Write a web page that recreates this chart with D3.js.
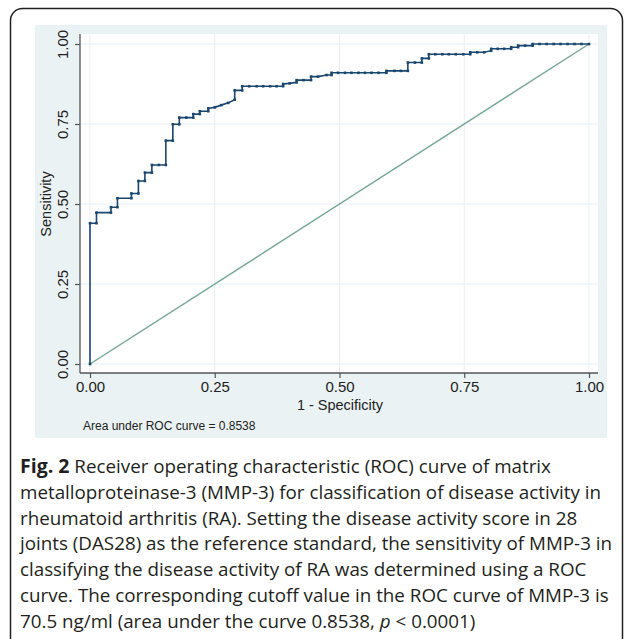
<!DOCTYPE html>
<html>
<head>
<meta charset="utf-8">
<script src="https://cdn.jsdelivr.net/npm/d3@7"></script>
<style>
  body { margin: 0; background: #fff; }
  svg { display: block; }
</style>
</head>
<body>
<div id="root"></div>
<script>
// ROC points (1 - specificity, sensitivity)
const fpr = [0, 0, .013, .013, .042, .042, .055, .055, .083, .083,
  .097, .097, .110, .110, .124, .124, .138, .152, .152, .166,
  .166, .179, .179, .193, .207, .207, .220, .220, .237, .237,
  .250, .263, .277, .290, .290, .305, .305, .319, .334, .347,
  .361, .374, .387, .387, .400, .414, .414, .428, .443, .443,
  .457, .474, .484, .484, .497, .511, .524, .538, .551, .564,
  .578, .594, .594, .610, .623, .637, .637, .651, .665, .665,
  .679, .679, .692, .706, .719, .733, .748, .762, .762, .776,
  .790, .804, .804, .817, .830, .844, .844, .858, .858, .872,
  .887, .887, .901, .915, .929, .943, .957, .971, .985, 1];
const sens = [0, .440, .440, .473, .473, .490, .490, .518, .518, .533,
  .533, .572, .572, .598, .598, .622, .622, .622, .698, .698,
  .749, .749, .770, .770, .770, .781, .781, .790, .790, .799,
  .802, .809, .816, .826, .855, .855, .868, .868, .868, .868,
  .868, .868, .868, .875, .877, .880, .887, .887, .887, .898,
  .898, .903, .903, .910, .910, .910, .910, .910, .910, .910,
  .910, .910, .916, .916, .916, .916, .942, .942, .942, .955,
  .955, .968, .968, .968, .968, .968, .968, .968, .974, .974,
  .974, .979, .985, .985, .985, .985, .990, .990, .995, .995,
  .995, 1, 1, 1, 1, 1, 1, 1, 1, 1];
const refLine = [0, 1];
const tickValues = [0, 0.25, 0.5, 0.75, 1];
const tickLabels = ["0.00", "0.25", "0.50", "0.75", "1.00"];
const noteText = "Area under ROC curve = 0.8538";
const captionLines = [
  "Receiver operating characteristic (ROC) curve of matrix",
  "metalloproteinase-3 (MMP-3) for classification of disease activity in",
  "rheumatoid arthritis (RA). Setting the disease activity score in 28",
  "joints (DAS28) as the reference standard, the sensitivity of MMP-3 in",
  "classifying the disease activity of RA was determined using a ROC",
  "curve. The corresponding cutoff value in the ROC curve of MMP-3 is",
  "70.5 ng/ml (area under the curve 0.8538, "
];

const W = 627, H = 639;
const navy = "#1a476f", green = "#74a795", panel = "#eaf2f3", grid = "#e6eff3";

const svg = d3.select("#root").append("svg")
  .attr("width", W).attr("height", H);

// outer box round the whole figure
svg.append("rect")
  .attr("x", 10.5).attr("y", 8.5)
  .attr("width", 612).attr("height", 660)
  .attr("rx", 12)
  .attr("fill", "none").attr("stroke", "#222").attr("stroke-width", 1.5);

// graph region
svg.append("rect")
  .attr("x", 35).attr("y", 25).attr("width", 572).attr("height", 413)
  .attr("fill", panel);

const plot = { left: 80, top: 34, right: 598, bottom: 373 };
svg.append("rect")
  .attr("x", plot.left).attr("y", plot.top)
  .attr("width", plot.right - plot.left).attr("height", plot.bottom - plot.top)
  .attr("fill", "#fff");

const x = d3.scaleLinear().domain([0, 1]).range([90, 589]);
const y = d3.scaleLinear().domain([0, 1]).range([364, 44]);

// grid
svg.append("g").selectAll("line").data(tickValues).join("line")
  .attr("x1", plot.left).attr("x2", plot.right)
  .attr("y1", d => y(d)).attr("y2", d => y(d))
  .attr("stroke", grid).attr("stroke-width", 1);
svg.append("g").selectAll("line").data(tickValues).join("line")
  .attr("y1", plot.top).attr("y2", plot.bottom)
  .attr("x1", d => x(d)).attr("x2", d => x(d))
  .attr("stroke", grid).attr("stroke-width", 1);

// axes
const xAxis = d3.axisBottom(x).tickValues(tickValues)
  .tickFormat((d, i) => tickLabels[i]).tickSize(5).tickPadding(3);
const gX = svg.append("g").attr("transform", `translate(0,${plot.bottom})`).call(xAxis);
gX.select(".domain").attr("d", `M${plot.left},0H${plot.right}`);

const yAxis = d3.axisLeft(y).tickValues(tickValues)
  .tickFormat((d, i) => tickLabels[i]).tickSize(5).tickPadding(0);
const gY = svg.append("g").attr("transform", `translate(${plot.left},0)`).call(yAxis);
gY.select(".domain").attr("d", `M0,${plot.top}V${plot.bottom}`);

[gX, gY].forEach(g => {
  g.select(".domain").attr("stroke", "#555").attr("stroke-width", 1.3);
  g.selectAll(".tick line").attr("stroke", "#555").attr("stroke-width", 1.2);
  g.selectAll(".tick text")
    .attr("font-family", "'Liberation Sans', Arial, sans-serif")
    .attr("font-size", 15).attr("fill", "#222");
});
gY.selectAll(".tick text")
  .attr("x", null).attr("dy", null)
  .attr("transform", "translate(-12,0) rotate(-90)")
  .attr("text-anchor", "middle");

// axis titles
svg.append("text")
  .attr("x", 340).attr("y", 410)
  .attr("text-anchor", "middle")
  .attr("font-family", "'Liberation Sans', Arial, sans-serif")
  .attr("font-size", 14.5).attr("fill", "#222")
  .text("1 - Specificity");
svg.append("text")
  .attr("transform", "translate(51,204) rotate(-90)")
  .attr("text-anchor", "middle")
  .attr("font-family", "'Liberation Sans', Arial, sans-serif")
  .attr("font-size", 14.5).attr("fill", "#222")
  .text("Sensitivity");

// reference diagonal
svg.append("path")
  .attr("d", d3.line()(refLine.map(v => [x(v), y(v)])))
  .attr("fill", "none").attr("stroke", green).attr("stroke-width", 1.4);

// ROC curve
const pts = fpr.map((f, i) => [x(f), y(sens[i])]);
svg.append("path")
  .attr("d", d3.line()(pts))
  .attr("fill", "none").attr("stroke", navy).attr("stroke-width", 1.6);
svg.append("g").selectAll("rect").data(pts).join("rect")
  .attr("x", d => d[0] - 1.3).attr("y", d => d[1] - 1.3)
  .attr("width", 2.6).attr("height", 2.6)
  .attr("fill", navy);

// note
svg.append("text")
  .attr("x", 83).attr("y", 430)
  .attr("font-family", "'Liberation Sans', Arial, sans-serif")
  .attr("font-size", 12).attr("fill", "#222")
  .text(noteText);

// caption
const cap = svg.append("g")
  .attr("font-family", "'Open Sans', 'Noto Sans', sans-serif")
  .attr("font-size", 18.8).attr("fill", "#231f20");
captionLines.forEach((line, i) => {
  const t = cap.append("text").attr("x", 20).attr("y", 473 + i * 25.8);
  if (i === 0) {
    t.append("tspan").attr("font-weight", "bold").attr("font-size", 19.5).text("Fig. 2");
    t.append("tspan").text(" " + line);
  } else {
    t.append("tspan").text(line);
  }
  if (i === captionLines.length - 1) {
    t.append("tspan").attr("font-style", "italic").text("p");
    t.append("tspan").text(" < 0.0001)");
  }
});
</script>
</body>
</html>
